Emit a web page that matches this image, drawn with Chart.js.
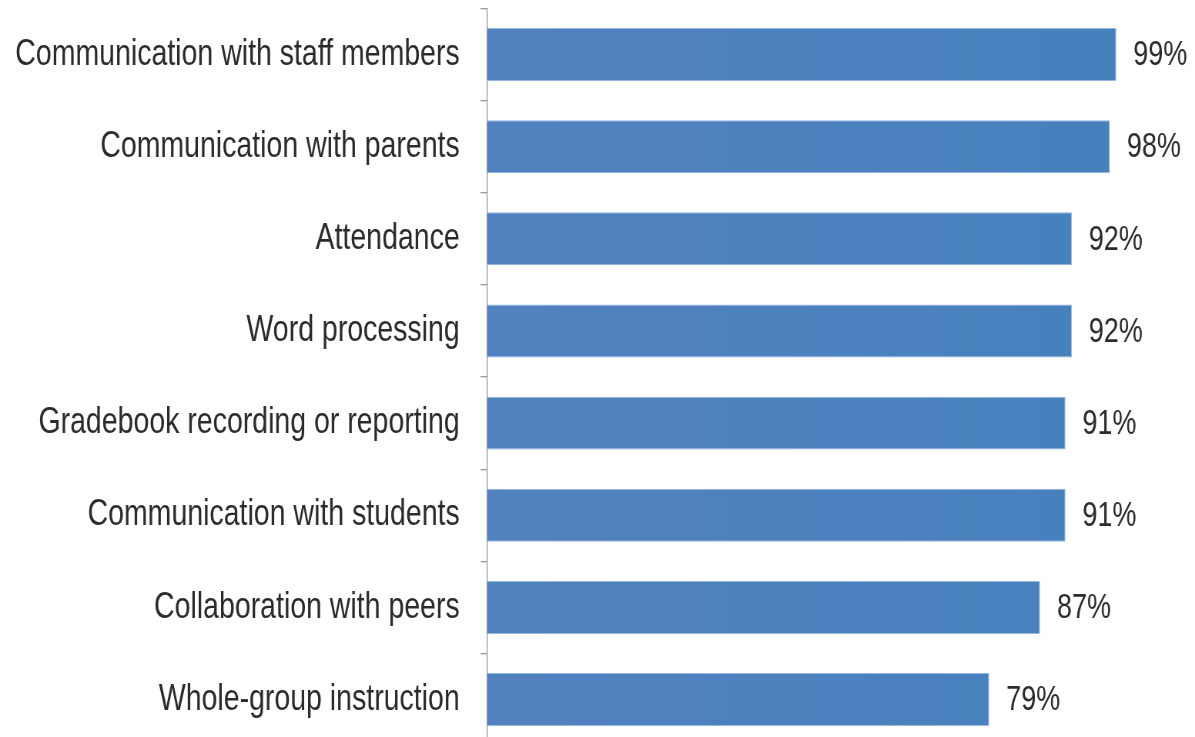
<!DOCTYPE html>
<html>
<head>
<meta charset="utf-8">
<script src="https://cdn.jsdelivr.net/npm/chart.js@4/dist/chart.umd.min.js"></script>
<style>
  html, body { margin: 0; padding: 0; background: #fff; overflow: hidden; }
  #wrap { width: 1195px; height: 737px; overflow: hidden; }
  /* the reference text looks horizontally squeezed, so draw wide and squeeze */
  #chart { transform: scaleX(0.77); transform-origin: 0 0; display: block; }
</style>
</head>
<body>
<div id="wrap"><canvas id="chart" width="1552" height="750"></canvas></div>
<script>
const categories = [
  'Communication with staff members',
  'Communication with parents',
  'Attendance',
  'Word processing',
  'Gradebook recording or reporting',
  'Communication with students',
  'Collaboration with peers',
  'Whole-group instruction'
];
const values = [99, 98, 92, 92, 91, 91, 87, 79];
const valueLabels = ['99%', '98%', '92%', '92%', '91%', '91%', '87%', '79%'];

const fontFamily = '"Liberation Sans", Arial, sans-serif';

// draws the percent labels at the end of each bar
const barLabels = {
  id: 'barLabels',
  afterDatasetsDraw(chart) {
    const ctx = chart.ctx;
    const meta = chart.getDatasetMeta(0);
    ctx.save();
    ctx.font = '35px ' + fontFamily;
    ctx.fillStyle = '#2b2b2b';
    ctx.textAlign = 'left';
    ctx.textBaseline = 'middle';
    meta.data.forEach((bar, i) => {
      ctx.fillText(valueLabels[i], bar.x + 22, bar.y + 1);
    });
    ctx.restore();
  }
};

const canvas = document.getElementById('chart');
new Chart(canvas.getContext('2d'), {
  type: 'bar',
  data: {
    labels: categories,
    datasets: [{
      data: values,
      backgroundColor: (c) => {
        const area = c.chart.chartArea;
        if (!area) return '#4f81bd';
        const g = c.chart.ctx.createLinearGradient(area.left, 0, area.right, 0);
        g.addColorStop(0, '#5281bf');
        g.addColorStop(1, '#4581bd');
        return g;
      },
      borderColor: 'rgba(140,175,220,0.9)',
      borderWidth: 1,
      borderSkipped: 'left',
      categoryPercentage: 1,
      barPercentage: 0.575
    }]
  },
  options: {
    indexAxis: 'y',
    responsive: false,
    animation: false,
    devicePixelRatio: 1,
    layout: { padding: { top: 8.5, bottom: 4.4, left: 0, right: 0 } },
    plugins: {
      legend: { display: false },
      tooltip: { enabled: false }
    },
    scales: {
      x: {
        display: false,
        min: 0,
        max: 111.4
      },
      y: {
        afterFit: (s) => {
          s.width = 633;
          s.paddingTop = 0;
          s.paddingBottom = 0;
        },
        border: { display: true, color: '#9a9a9a', width: 1.3 },
        grid: {
          drawOnChartArea: false,
          drawTicks: true,
          tickLength: 9,
          color: '#9a9a9a',
          lineWidth: 1.3
        },
        ticks: {
          color: '#2b2b2b',
          padding: 27,
          font: { family: fontFamily, size: 37 }
        }
      }
    }
  },
  plugins: [barLabels]
});
</script>
</body>
</html>
